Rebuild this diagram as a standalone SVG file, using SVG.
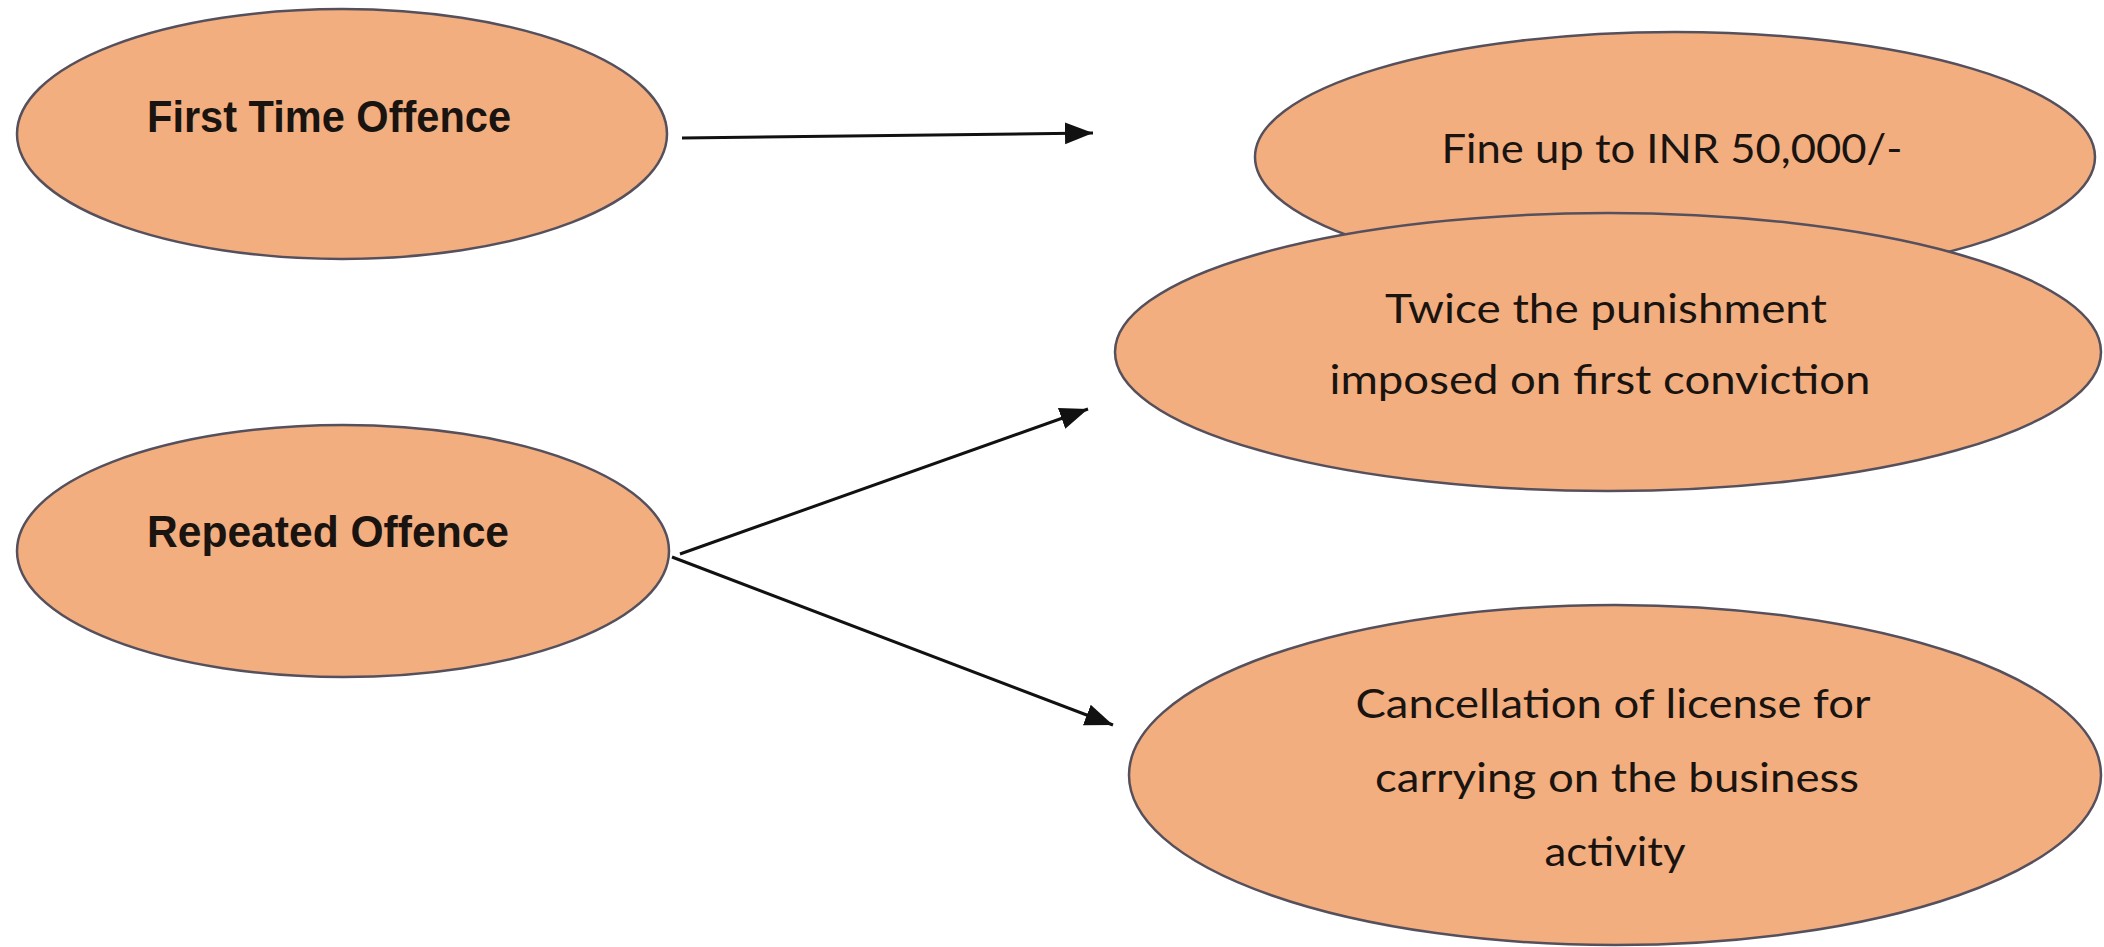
<svg xmlns="http://www.w3.org/2000/svg" width="2104" height="947" viewBox="0 0 2104 947">
<style>
.node{fill:#F3AE80;stroke:#55505c;stroke-width:2.5}
.lb{font-family:"Liberation Sans",Arial,sans-serif;font-weight:bold;font-size:44px;fill:#1a1410;text-anchor:middle}
.lr{font-family:Lato,"Liberation Sans",sans-serif;font-size:40px;fill:#1a1410;text-anchor:middle}
.conn{stroke:#111;stroke-width:3;fill:none;marker-end:url(#ah)}
</style>
<defs>
<marker id="ah" markerUnits="userSpaceOnUse" markerWidth="30" markerHeight="24" refX="28" refY="11" orient="auto">
<path d="M0,0 L28,11 L0,22 z" fill="#111"/>
</marker>
</defs>
<rect width="2104" height="947" fill="#fff"/>
<g id="first">
<ellipse class="node" cx="342" cy="134" rx="325" ry="125"/>
<text class="lb" x="329" y="132" textLength="364" lengthAdjust="spacingAndGlyphs">First Time Offence</text>
</g>
<g id="repeated">
<ellipse class="node" cx="343" cy="551" rx="326" ry="126"/>
<text class="lb" x="328" y="547" textLength="362" lengthAdjust="spacingAndGlyphs">Repeated Offence</text>
</g>
<g id="fine">
<ellipse class="node" cx="1675" cy="157" rx="420" ry="125"/>
<text class="lr" x="1672" y="163" textLength="461" lengthAdjust="spacingAndGlyphs">Fine up to INR 50,000/-</text>
</g>
<g id="twice">
<ellipse class="node" cx="1608" cy="352" rx="493" ry="139"/>
<text class="lr" x="1606" y="323" textLength="442" lengthAdjust="spacingAndGlyphs">Twice the punishment</text>
<text class="lr" x="1600" y="394" textLength="541" lengthAdjust="spacingAndGlyphs">imposed on first conviction</text>
</g>
<g id="cancel">
<ellipse class="node" cx="1615" cy="775" rx="486" ry="170"/>
<text class="lr" x="1613" y="718" textLength="515" lengthAdjust="spacingAndGlyphs">Cancellation of license for</text>
<text class="lr" x="1617" y="792" textLength="484" lengthAdjust="spacingAndGlyphs">carrying on the business</text>
<text class="lr" x="1615" y="866" textLength="141" lengthAdjust="spacingAndGlyphs">activity</text>
</g>
<g id="connectors">
<line class="conn" x1="682" y1="138" x2="1093" y2="133"/>
<line class="conn" x1="680" y1="554" x2="1088" y2="409"/>
<line class="conn" x1="672" y1="557" x2="1113" y2="725"/>
</g>
</svg>
